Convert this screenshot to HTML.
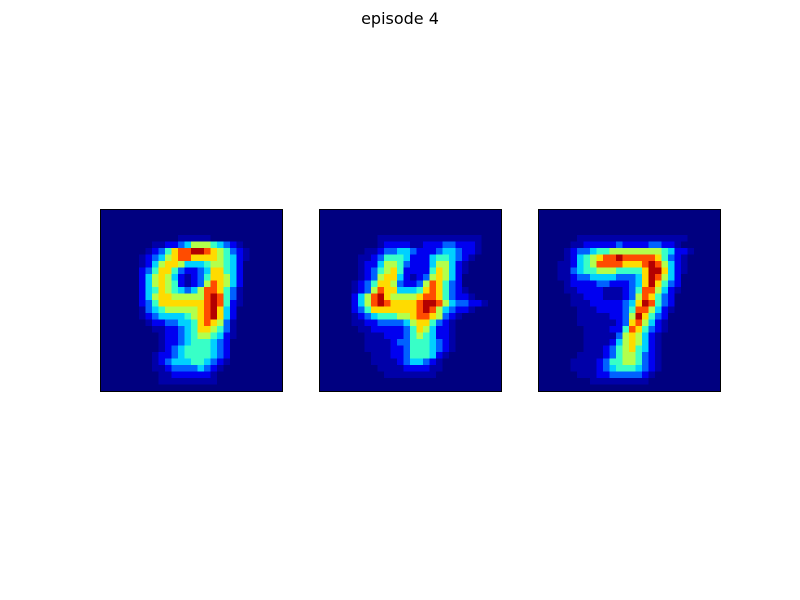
<!DOCTYPE html>
<html><head><meta charset="utf-8"><style>
html,body{margin:0;padding:0;background:#fff;}
svg{display:block;}
</style></head><body>
<svg id="fig" width="800" height="600" xmlns="http://www.w3.org/2000/svg">
<rect x="0" y="0" width="800" height="600" fill="#fff"/>
<text x="400" y="24" text-anchor="middle" font-family="DejaVu Sans, Liberation Sans, sans-serif" font-size="16" fill="#000">episode 4</text>
</svg>
<script>
const panelNames = ['digit-nine', 'digit-four', 'digit-seven'];
const image1 = [
"0000000000000000000000000000","0000000000000000000000000000","0000000000000000000000000000","0000000000000000000000000000",
"0000000000001111100000000000",
"0000000011223466654321000000",
"0000000123578899876532100000",
"0000001234678877776542100000",
"0000001246776444566542000000",
"0000002357753223477542000000",
"0000002467642123577642000000",
"0000002467652123687642000000",
"0000002457654346887531000000",
"0000002467766666898531000000",
"0000002357777777898521000000",
"0000001345666667897420000000",
"0000001234444567897420000000",
"0000000122334457876310000000",
"0000000011223457765310000000",
"0000000001223456654210000000",
"0000000001223455543200000000",
"0000000001234555543200000000",
"0000000012234555543200000000",
"0000000012344455432100000000",
"0000000011233334321000000000",
"0000000001122222210000000000",
"0000000001111111110000000000",
"0000000000000000000000000000"];
const image2 = [
"0000000000000000000000000000","0000000000000000000000000000","0000000000000000000000000000","0000000000000000000000000000",
"0000000001111111111111111000",
"0000000001222211222332221000",
"0000000112334432223443221000",
"0000001123555422245543210000",
"0000001224665322246642100000",
"0000001235675222257642100000",
"0000001236774212367642000000",
"0000012357763223687532000000",
"0000012368774445787532100000",
"0000024689766667887532210000",
"0000024689877778998643322100",
"0000023577777778986432210000",
"0000012345556678876321000000",
"0000011223333467753210000000",
"0000001122222357642210000000",
"0000000111222356542210000000",
"0000000111123355543210000000",
"0000000111122355543210000000",
"0000000011122355542100000000",
"0000000011112344321000000000",
"0000000001111222211000000000",
"0000000000111111110000000000",
"0000000000000000000000000000","0000000000000000000000000000"];
const image3 = [
"0000000000000000000000000000","0000000000000000000000000000","0000000000000000000000000000","0000000000000000000000000000",
"0000001111111111111111100000",
"0000011222223222233221000000",
"0000123345566666666542210000",
"0000124567889888887532100000",
"0001124568888777898642100000",
"0001134556665555799742100000",
"0001123344443334798642000000",
"0000122223322234797532000000",
"0000112222111235886421000000",
"0000011222111236875320000000",
"0000011122222347985320000000",
"0000001112222358864210000000",
"0000001111122369753200000000",
"0000001111112378642100000000",
"0000000111122587532100000000",
"0000000111113676421000000000",
"0000000111124676421000000000",
"0000000111235675421000000000",
"0000001111235665321000000000",
"0000011112355665321000000000",
"0000011112345554321000000000",
"0000001112233333210000000000",
"0000000011111111100000000000",
"0000000000000000000000000000"];
const images = [image1, image2, image3];
const levelValues = [0, 0.04, 0.11, 0.22, 0.33, 0.43, 0.55, 0.66, 0.8, 0.95];

const svg = document.getElementById('fig');
const NS = 'http://www.w3.org/2000/svg';
const panelX = [100, 319, 538], panelY = 209, panelSize = 182, gridN = 28;
function clip(v){return Math.max(0, Math.min(1, v));}
function jet(v){
  const r = clip(1.5 - Math.abs(4*v - 3)), g = clip(1.5 - Math.abs(4*v - 2)), b = clip(1.5 - Math.abs(4*v - 1));
  return 'rgb(' + Math.round(r*255) + ',' + Math.round(g*255) + ',' + Math.round(b*255) + ')';
}
function xScale(p, col){return panelX[p] + col * panelSize / gridN;}
function yScale(row){return panelY + row * panelSize / gridN;}
const cell = panelSize / gridN;
images.forEach((img, p) => {
  const g = document.createElementNS(NS, 'g');
  
  
  svg.appendChild(g);
  for (let r = 0; r < gridN; r++) {
    const row = (img[r] || '').padEnd(gridN, '0');
    for (let c = 0; c < gridN; c++) {
      const d = parseInt(row[c], 10) || 0;
      const rect = document.createElementNS(NS, 'rect');
      rect.setAttribute('x', xScale(p, c));
      rect.setAttribute('y', yScale(r));
      rect.setAttribute('width', cell + 0.4);
      rect.setAttribute('height', cell + 0.4);
      rect.setAttribute('fill', jet(levelValues[d]));
      
      
      g.appendChild(rect);
    }
  }
  const frame = document.createElementNS(NS, 'rect');
  frame.setAttribute('x', panelX[p] + 0.5);
  frame.setAttribute('y', panelY + 0.5);
  frame.setAttribute('width', panelSize);
  frame.setAttribute('height', panelSize);
  frame.setAttribute('fill', 'none');
  frame.setAttribute('stroke', '#000');
  frame.setAttribute('stroke-width', '1');
  
  
  svg.appendChild(frame);
});
</script>
</body></html>
